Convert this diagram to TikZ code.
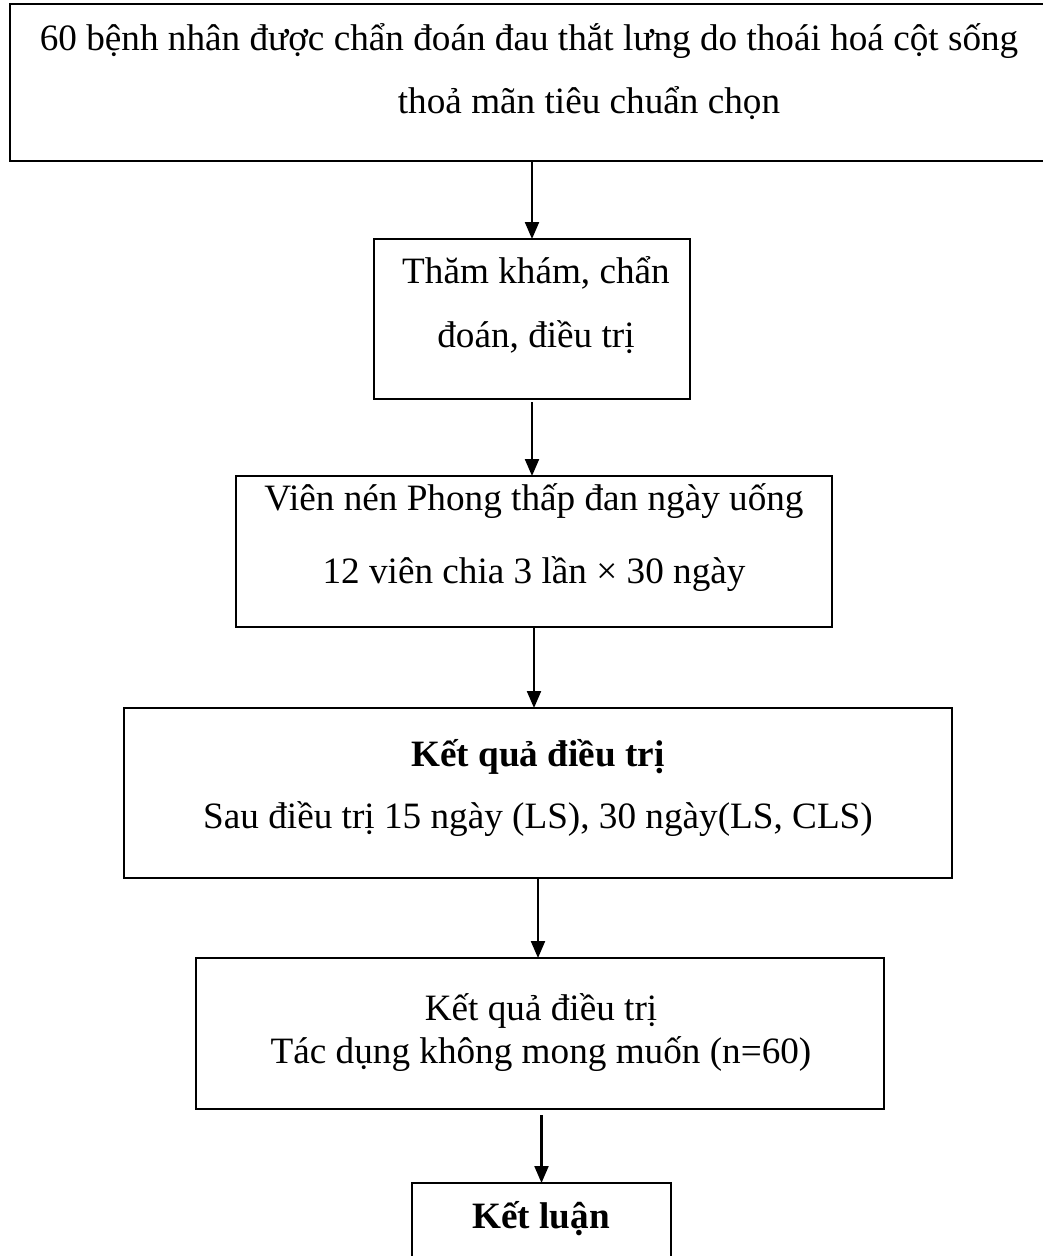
\documentclass[tikz,border=0pt]{standalone}
\usepackage{fontspec}
\setmainfont{Liberation Serif}
\usetikzlibrary{arrows.meta}
\begin{document}
\begin{tikzpicture}[x=1pt,y=-1pt,
  box/.style={draw, line width=2.2pt, inner sep=0pt, outer sep=0pt, anchor=north west},
  txt/.style={anchor=base, inner sep=0pt, font=\fontsize{37.2}{44}\selectfont},
  btxt/.style={txt, font=\fontsize{37.2}{44}\selectfont\bfseries},
  arr/.style={line width=2.2pt, -{Triangle[length=17pt,width=14pt]}}]
\useasboundingbox (0,0) rectangle (1043,1256);
\clip (0,0) rectangle (1043,1256);
\fill[white] (0,0) rectangle (1043,1256);
% boxes
\node[box, minimum width=1156pt, minimum height=157pt] (b1) at (10,4) {};
\node[box, minimum width=316pt, minimum height=160pt] (b2) at (374,239) {};
\node[box, minimum width=596pt, minimum height=151pt] (b3) at (236,476) {};
\node[box, minimum width=828pt, minimum height=170pt] (b4) at (124,708) {};
\node[box, minimum width=688pt, minimum height=151pt] (b5) at (196,958) {};
\node[box, minimum width=259pt, minimum height=120pt] (b6) at (412,1183) {};
% texts
\node[txt] (t1a) at (529,50) {60 bệnh nhân được chẩn đoán đau thắt lưng do thoái hoá cột sống};
\node[txt] (t1b) at (589,113) {thoả mãn tiêu chuẩn chọn};
\node[txt] (t2a) at (536,283) {Thăm khám, chẩn};
\node[txt] (t2b) at (536,347) {đoán, điều trị};
\node[txt] (t3a) at (534,510) {Viên nén Phong thấp đan ngày uống};
\node[txt] (t3b) at (534,583) {12 viên chia 3 lần × 30 ngày};
\node[btxt] (t4a) at (538,766) {Kết quả điều trị};
\node[txt] (t4b) at (538,828) {Sau điều trị 15 ngày (LS), 30 ngày(LS, CLS)};
\node[txt] (t5a) at (541,1020) {Kết quả điều trị};
\node[txt] (t5b) at (541,1063) {Tác dụng không mong muốn (n=60)};
\node[btxt] (t6) at (541,1228) {Kết luận};
% arrows
\draw[arr] (b2.north |- b1.south) -- (b2.north);
\draw[arr, shorten <=3pt] (b2.south) -- (b2.south |- b3.north);
\draw[arr] (b3.south) -- (b3.south |- b4.north);
\draw[arr] (b4.south) -- (b4.south |- b5.north);
\draw[arr, shorten <=6pt] (b6.north |- b5.south) -- (b6.north);
\end{tikzpicture}
\end{document}
